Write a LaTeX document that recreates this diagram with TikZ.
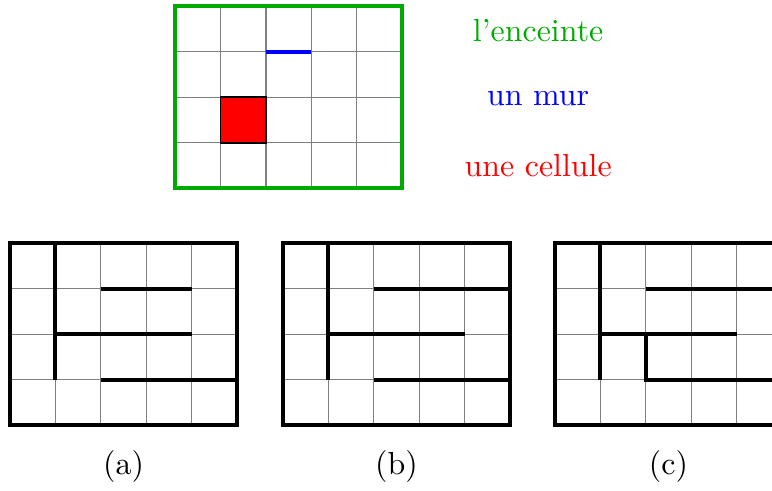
\documentclass[tikz,border=0pt]{standalone}
\usepackage{xcolor}
\usetikzlibrary{positioning}
\definecolor{mzgreen}{RGB}{0,170,0}

\newcommand{\cellgrid}{%
  \foreach \i in {1,...,4} \draw[cellline] (\i,0) -- (\i,4);
  \foreach \j in {1,...,3} \draw[cellline] (0,\j) -- (5,\j);
}

\begin{document}
\begin{tikzpicture}[x=0.5cm, y=0.5cm]
  \tikzset{
    cellline/.style={draw=gray, line width=0.4pt},
    wall/.style={draw=black, line width=1.3pt},
    caption/.style={font=\normalsize}
  }
  \useasboundingbox (0,0) rectangle (17.0,10.79);
  \clip (0,0) rectangle (17.0,10.79);

  % --- legend grid ---
  \begin{scope}[shift={(3.855,6.65)}]
    \cellgrid
    \draw[fill=red, draw=black, line width=0.6pt] (1,1) rectangle (2,2);
    \draw[blue, line width=1.3pt] (2,3) -- (3,3);
    \draw[mzgreen, line width=1.3pt] (0,0) rectangle (5,4);
  \end{scope}
  \node[caption, text=mzgreen, anchor=base] (enceinte) at (11.85,9.87) {l'enceinte};
  \node[caption, text=blue, anchor=base] (mur) at (11.85,8.46) {un mur};
  \node[caption, text=red, anchor=base] (cellule) at (11.85,6.90) {une cellule};

  % --- maze (a) ---
  \begin{scope}[shift={(0.22,1.43)}]
    \cellgrid
    \draw[wall] (0,0) rectangle (5,4);
    \draw[wall] (1,4) -- (1,1);
    \draw[wall] (2,3) -- (4,3);
    \draw[wall] (1,2) -- (4,2);
    \draw[wall] (2,1) -- (5,1);
    \node[caption] (capa) at (2.5,-0.92) {(a)};
  \end{scope}

  % --- maze (b) ---
  \begin{scope}[shift={(6.23,1.43)}]
    \cellgrid
    \draw[wall] (0,0) rectangle (5,4);
    \draw[wall] (1,4) -- (1,1);
    \draw[wall] (2,3) -- (5,3);
    \draw[wall] (1,2) -- (4,2);
    \draw[wall] (2,1) -- (5,1);
    \node[caption] (capb) at (2.5,-0.92) {(b)};
  \end{scope}

  % --- maze (c) ---
  \begin{scope}[shift={(12.22,1.43)}]
    \cellgrid
    \draw[wall] (0,0) rectangle (5,4);
    \draw[wall] (1,4) -- (1,1);
    \draw[wall] (2,3) -- (5,3);
    \draw[wall] (1,2) -- (4,2);
    \draw[wall] (2,2) -- (2,1) -- (5,1);
    \node[caption] (capc) at (2.5,-0.92) {(c)};
  \end{scope}
\end{tikzpicture}
\end{document}
